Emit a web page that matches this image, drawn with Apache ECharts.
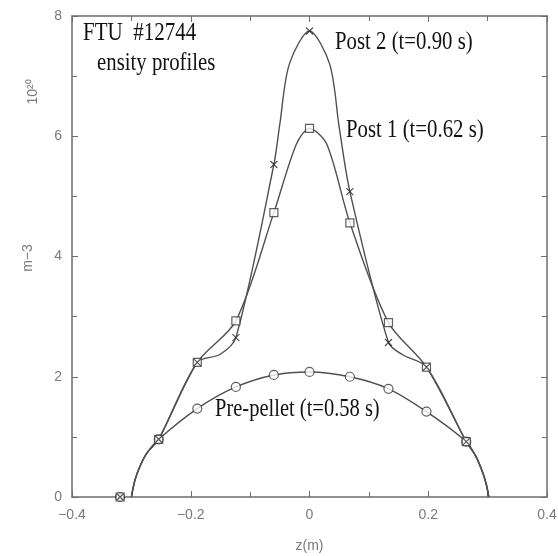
<!DOCTYPE html>
<html>
<head>
<meta charset="utf-8">
<script src="https://cdn.jsdelivr.net/npm/echarts@6/dist/echarts.min.js"></script>
<style>
  html, body { margin: 0; padding: 0; background: #fff; }
  #chart { width: 558px; height: 556px; }
</style>
</head>
<body>
<div id="chart"></div>
<script>
// Measured positions (m) of the profile samples
const markerZ = [-0.319, -0.254, -0.189, -0.124, -0.06, 0, 0.068, 0.133, 0.197, 0.264];
// Density samples, 10^20 m^-3
const prePellet = [0, 0.96, 1.47, 1.83, 2.03, 2.08, 2.0, 1.8, 1.42, 0.92];
const post1 = [0, 0.96, 2.24, 2.93, 4.73, 6.13, 4.56, 2.9, 2.16, 0.92];
const post2 = [0, 0.96, 2.24, 2.65, 5.53, 7.75, 5.08, 2.57, 2.16, 0.92];

// Fitted profile curves
const edgeLeftZ = [-0.300, -0.294, -0.286, -0.274];
const edgeLeftN = [0, 0.28, 0.5, 0.73];
const edgeRightZ = [0.28, 0.292, 0.298, 0.302];
const edgeRightN = [0.68, 0.4, 0.2, 0];

const preCurveZ = [-0.254, -0.189, -0.124, -0.06, 0, 0.068, 0.133, 0.197, 0.264];
const preCurveN = [0.96, 1.47, 1.83, 2.03, 2.08, 2.0, 1.8, 1.42, 0.92];
const post1CurveZ = [-0.254, -0.189, -0.124, -0.06, -0.022, 0, 0.029, 0.068, 0.133, 0.197, 0.264];
const post1CurveN = [0.96, 2.24, 2.93, 4.73, 5.87, 6.13, 5.87, 4.56, 2.9, 2.16, 0.92];
const post2CurveZ = [-0.254, -0.189, -0.151, -0.124, -0.06, -0.05, -0.034, 0, 0.034, 0.05, 0.068, 0.133, 0.156, 0.197, 0.264];
const post2CurveN = [0.96, 2.24, 2.37, 2.65, 5.53, 6.2, 7.2, 7.75, 7.2, 6.15, 5.08, 2.57, 2.37, 2.16, 0.92];

const xTicks = [-0.4, -0.2, 0, 0.2, 0.4];
const yTicks = [0, 2, 4, 6, 8];

function pairs(zs, ns) { return zs.map((z, i) => [z, ns[i]]); }
function curve(zs, ns) {
  return pairs(edgeLeftZ.concat(zs, edgeRightZ), edgeLeftN.concat(ns, edgeRightN));
}

const axisGray = '#6e6e6e';
const labelGray = '#7a7a7a';
const lineGray = '#505050';
const serif = '"Liberation Serif", "DejaVu Serif", serif';
const sans = '"Liberation Sans", sans-serif';

const chart = echarts.init(document.getElementById('chart'));

function xAx(pos, showLabel) {
  return {
    type: 'value', position: pos, min: -0.4, max: 0.4, interval: 0.2,
    axisLine: { show: true, onZero: false, lineStyle: { color: axisGray, width: 1.5 } },
    axisTick: { show: true, inside: true, length: 6, lineStyle: { color: axisGray } },
    minorTick: { show: true, splitNumber: 2, length: 5, lineStyle: { color: axisGray } },
    splitLine: { show: false },
    axisLabel: {
      show: showLabel, margin: 11, color: labelGray, fontSize: 14, fontFamily: sans,
      formatter: v => (xTicks.indexOf(+v.toFixed(1)) >= 0 ? (v < 0 ? '\u2212' + Math.abs(v).toFixed(1) : (v === 0 ? '0' : v.toFixed(1))) : '')
    },
    name: showLabel ? 'z(m)' : '', nameLocation: 'middle', nameGap: 42,
    nameTextStyle: { color: labelGray, fontSize: 14, fontFamily: sans }
  };
}
function yAx(pos, showLabel) {
  return {
    type: 'value', position: pos, min: 0, max: 8, interval: 2,
    axisLine: { show: true, onZero: false, lineStyle: { color: axisGray, width: 1.5 } },
    axisTick: { show: true, inside: true, length: 6, lineStyle: { color: axisGray } },
    minorTick: { show: true, splitNumber: 2, length: 5, lineStyle: { color: axisGray } },
    splitLine: { show: false },
    axisLabel: {
      show: showLabel, margin: 10, color: labelGray, fontSize: 14, fontFamily: sans,
      formatter: v => (yTicks.indexOf(v) >= 0 ? String(v) : '')
    }
  };
}

const markerStyle = { color: '#fff', borderColor: '#3a3a3a', borderWidth: 1.2 };
const curveLine = { color: lineGray, width: 1.4 };

chart.setOption({
  animation: false,
  backgroundColor: '#fff',
  grid: { left: 72, right: 11, top: 16, bottom: 59, outerBoundsMode: 'none', containLabel: false },
  xAxis: [xAx('bottom', true), xAx('top', false)],
  yAxis: [yAx('left', true), yAx('right', false)],
  series: [
    { name: 'Pre-pellet curve', type: 'line', smooth: 0.3, showSymbol: false,
      data: curve(preCurveZ, preCurveN), lineStyle: curveLine, z: 2 },
    { name: 'Post 1 curve', type: 'line', smooth: 0.3, showSymbol: false,
      data: curve(post1CurveZ, post1CurveN), lineStyle: curveLine, z: 2 },
    { name: 'Post 2 curve', type: 'line', smooth: 0.3, showSymbol: false,
      data: curve(post2CurveZ, post2CurveN), lineStyle: curveLine, z: 2 },
    { name: 'Pre-pellet', type: 'scatter', symbol: 'circle', symbolSize: 9,
      data: pairs(markerZ, prePellet), itemStyle: markerStyle, z: 3 },
    { name: 'Post 1', type: 'scatter', symbol: 'rect', symbolSize: 8,
      data: pairs(markerZ, post1), itemStyle: markerStyle, z: 4 },
    { name: 'Post 2', type: 'scatter', symbol: 'path://M0,0L10,10M10,0L0,10', symbolSize: 7,
      data: pairs(markerZ, post2),
      itemStyle: { color: 'none', borderColor: '#2a2a2a', borderWidth: 1.2 }, z: 5 }
  ],
  graphic: [
    { type: 'text', x: 83, y: 33, scaleY: 1.2,
      style: { text: 'FTU  #12744', font: '21px ' + serif, fill: '#111', textVerticalAlign: 'middle' } },
    { type: 'text', x: 97, y: 63, scaleY: 1.2,
      style: { text: 'ensity profiles', font: '20.8px ' + serif, fill: '#111', textVerticalAlign: 'middle' } },
    { type: 'text', x: 335, y: 42, scaleY: 1.2,
      style: { text: 'Post 2 (t=0.90 s)', font: '20.8px ' + serif, fill: '#111', textVerticalAlign: 'middle' } },
    { type: 'text', x: 346, y: 130, scaleY: 1.2,
      style: { text: 'Post 1 (t=0.62 s)', font: '20.8px ' + serif, fill: '#111', textVerticalAlign: 'middle' } },
    { type: 'text', x: 215, y: 410, scaleY: 1.2,
      style: { text: 'Pre-pellet (t=0.58 s)', font: '20.5px ' + serif, fill: '#111', textVerticalAlign: 'middle' } },
    { type: 'text', x: 33, y: 92, rotation: Math.PI / 2,
      style: { text: '10\u00B2\u2070', font: '14px ' + sans, fill: labelGray,
        textAlign: 'center', textVerticalAlign: 'middle' } },
    { type: 'text', x: 28, y: 258, rotation: Math.PI / 2,
      style: { text: 'm\u22123', font: '14px ' + sans, fill: labelGray,
        textAlign: 'center', textVerticalAlign: 'middle' } }
  ]
});
</script>
</body>
</html>
